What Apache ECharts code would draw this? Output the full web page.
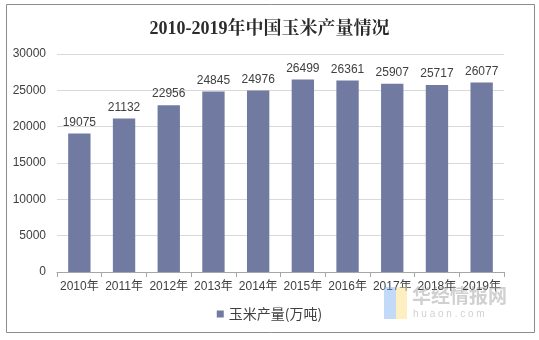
<!DOCTYPE html>
<html>
<head>
<meta charset="utf-8">
<script src="https://cdn.jsdelivr.net/npm/echarts@6/dist/echarts.min.js"></script>
<style>html,body{margin:0;padding:0;background:#fff;}#c{width:539px;height:340px;}</style>
</head>
<body>
<div id="c"></div>
<script>
const titleText = '2010-2019年中国玉米产量情况';
const categories = ['2010年','2011年','2012年','2013年','2014年','2015年','2016年','2017年','2018年','2019年'];
const seriesName = '玉米产量(万吨)';
const values = [19075, 21132, 22956, 24845, 24976, 26499, 26361, 25907, 25717, 26077];
const yTicks = [0, 5000, 10000, 15000, 20000, 25000, 30000];

const chart = echarts.init(document.getElementById('c'), null, {renderer: 'canvas'});
chart.setOption({
  backgroundColor: '#ffffff',
  animation: false,
  title: {
    text: titleText,
    left: 'center',
    top: 15,
    textStyle: {fontFamily: '"Liberation Serif","Noto Serif CJK SC","Noto Sans CJK SC",serif', fontWeight: 'bold', fontSize: 18, color: '#2b2b2b'}
  },
  graphic: [
    {type: 'rect', shape: {x: 6.5, y: 4.5, width: 528, height: 328}, style: {fill: 'none', stroke: '#8c8c8c', lineWidth: 1}, z: 0},
    {type: 'rect', shape: {x: 384, y: 287, width: 12, height: 32}, style: {fill: 'rgba(120,170,240,0.45)'}, z: 100},
    {type: 'rect', shape: {x: 396, y: 287, width: 11, height: 32}, style: {fill: 'rgba(250,220,120,0.45)'}, z: 100},
    {type: 'text', left: 412, top: 286, style: {text: '华经情报网', fontSize: 19, fontWeight: 'bold', fontFamily: '"Noto Sans CJK SC",sans-serif', fill: 'rgba(150,150,150,0.45)'}, z: 100},
    {type: 'text', left: 413, top: 309, style: {text: 'h u a o n . c o m', fontSize: 10, fontFamily: '"Liberation Sans",sans-serif', fill: 'rgba(150,150,150,0.45)'}, z: 100}
  ],
  legend: {
    data: [seriesName],
    bottom: 14,
    left: 'center',
    icon: 'rect',
    itemWidth: 7,
    itemHeight: 7,
    itemGap: 4,
    textStyle: {fontSize: 14, color: '#404040', fontFamily: '"Noto Sans CJK SC",sans-serif'}
  },
  grid: {left: 57, right: 35, top: 54, bottom: 68, containLabel: false},
  xAxis: {
    type: 'category',
    data: categories,
    axisLine: {lineStyle: {color: '#a6a6a6'}},
    axisTick: {show: true, length: 5, lineStyle: {color: '#a6a6a6'}},
    axisLabel: {fontSize: 12, color: '#404040', margin: 9, interval: 0, fontFamily: '"Liberation Sans","Noto Sans CJK SC",sans-serif'}
  },
  yAxis: {
    type: 'value',
    min: yTicks[0],
    max: yTicks[yTicks.length - 1],
    interval: 5000,
    axisLine: {show: false},
    axisTick: {show: false},
    splitLine: {lineStyle: {color: '#d9d9d9'}},
    axisLabel: {fontSize: 12, color: '#404040', margin: 11, fontFamily: '"Liberation Sans",sans-serif', formatter: function (v) { return String(v); }}
  },
  series: [{
    name: seriesName,
    type: 'bar',
    data: values,
    barWidth: '50%',
    itemStyle: {color: '#717ba1'},
    label: {show: true, position: 'top', distance: 5, fontSize: 12, color: '#404040', fontFamily: '"Liberation Sans",sans-serif'}
  }]
});
</script>
</body>
</html>
